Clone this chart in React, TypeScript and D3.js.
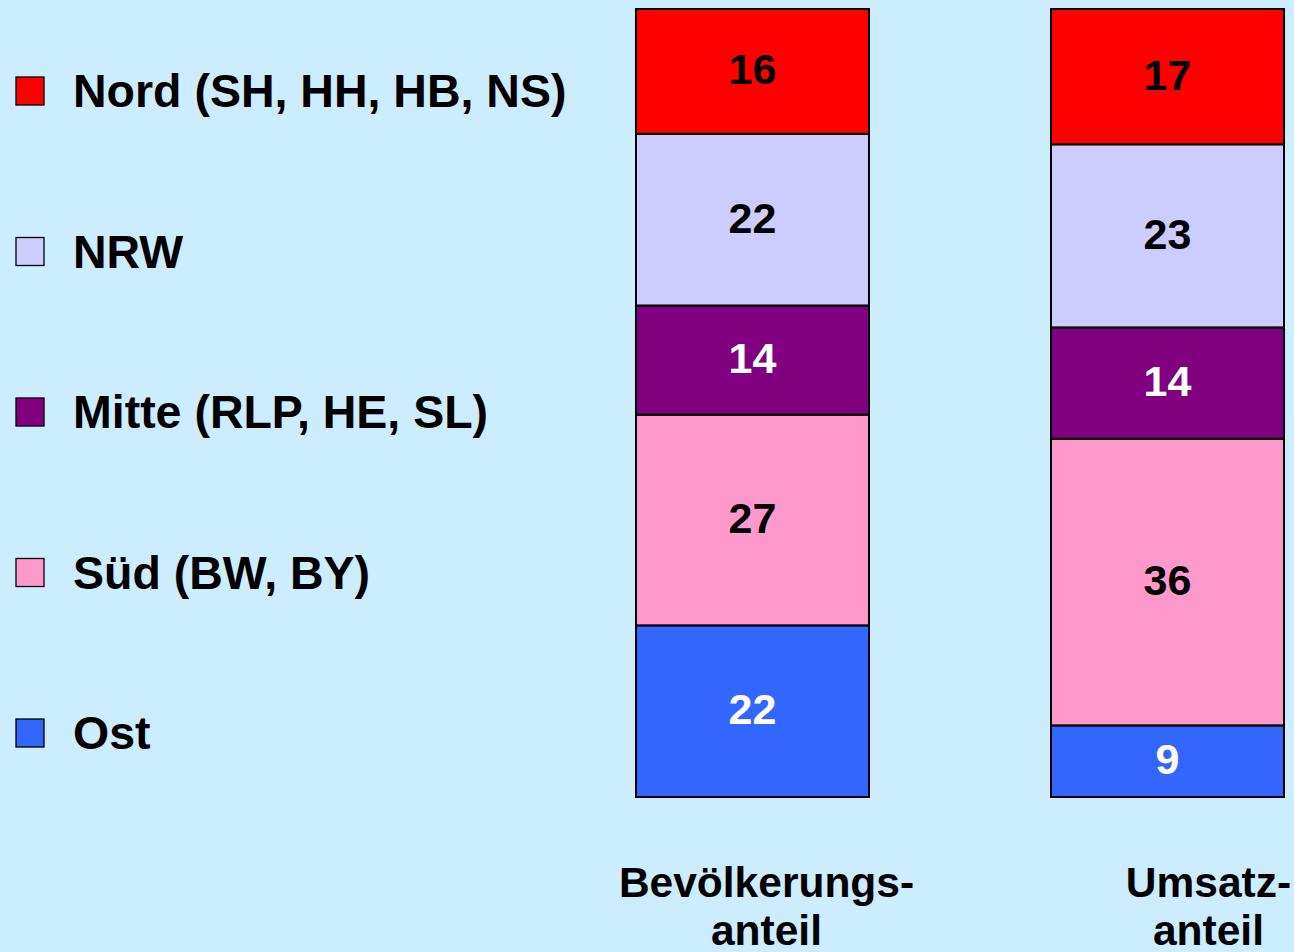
import React from "react";
import * as d3 from "d3";

// regions, top of stack first in the legend
const regions = ["Nord (SH, HH, HB, NS)", "NRW", "Mitte (RLP, HE, SL)", "Süd (BW, BY)", "Ost"];
const regionKeys = ["nord", "nrw", "mitte", "sued", "ost"];
const regionColors = ["#FF0000", "#CCCCFF", "#800080", "#FF99CC", "#3366FF"];
const labelColors = ["#000", "#000", "#fff", "#000", "#fff"];

const categories = ["bev", "ums"];
const categoryLines = [["Bevölkerungs-", "anteil"], ["Umsatz-", "anteil"]];

// percentage shares per category
const bevShares = [16, 22, 14, 27, 22];
const umsShares = [17, 23, 14, 36, 9];

const W = 1294;
const H = 952;
const BG = "#CCECFF";
const FONT = "Arial, 'Liberation Sans', Helvetica, sans-serif";

export default function App() {
  const rows = categories.map((c, i) => {
    const vals = i === 0 ? bevShares : umsShares;
    const row: any = { cat: c };
    regionKeys.forEach((k, j) => (row[k] = vals[j]));
    return row;
  });

  // bottom of stack is Ost, so stack keys in reverse
  const stack = d3
    .stack()
    .keys([...regionKeys].reverse())
    .offset(d3.stackOffsetExpand);
  const series = stack(rows);

  const x = d3.scaleBand().domain(categories).range([636, 1284]).paddingInner(0.4386).paddingOuter(0);
  const y = d3.scaleLinear().domain([0, 1]).range([797, 9]);

  const legendY = d3.scalePoint().domain(regionKeys).range([91, 733]);
  const labelShift = [14, 41];

  return (
    <div>
      <style>{"body{margin:0;background:" + BG + "}"}</style>
      <svg width={W} height={H} style={{ display: "block", background: BG }} fontFamily={FONT} fontWeight="bold">
        <rect width={W} height={H} fill={BG} />

        {/* legend */}
        {regionKeys.map((k, i) => (
          <g key={k} transform={`translate(0,${legendY(k)})`}>
            <rect x={16} y={-14} width={28} height={28} fill={regionColors[i]} stroke="#000" strokeWidth={1.3} />
            <text x={73} y={16} fontSize={46.5} fill="#000">
              {regions[i]}
            </text>
          </g>
        ))}

        {/* stacked bars */}
        {series.map((s) => {
          const idx = regionKeys.indexOf(s.key);
          return (
            <g key={s.key}>
              {s.map((d: any, j: number) => {
                const cat = categories[j];
                const x0 = x(cat)!;
                const y0 = y(d[1]);
                const y1 = y(d[0]);
                return (
                  <g key={cat}>
                    <rect
                      x={x0}
                      y={y0}
                      width={x.bandwidth()}
                      height={y1 - y0}
                      fill={regionColors[idx]}
                      stroke="#000"
                      strokeWidth={2}
                    />
                    <text
                      x={x0 + x.bandwidth() / 2}
                      y={(y0 + y1) / 2 + 13}
                      textAnchor="middle"
                      fontSize={43}
                      fill={labelColors[idx]}
                    >
                      {d.data[s.key]}
                    </text>
                  </g>
                );
              })}
            </g>
          );
        })}

        {/* category labels */}
        {categories.map((c, i) => (
          <text
            key={c}
            x={x(c)! + x.bandwidth() / 2 + labelShift[i]}
            y={897}
            textAnchor="middle"
            fontSize={42.5}
            fill="#000"
          >
            {categoryLines[i].map((line, j) => (
              <tspan key={j} x={x(c)! + x.bandwidth() / 2 + labelShift[i]} dy={j === 0 ? 0 : 48}>
                {line}
              </tspan>
            ))}
          </text>
        ))}
      </svg>
    </div>
  );
}
